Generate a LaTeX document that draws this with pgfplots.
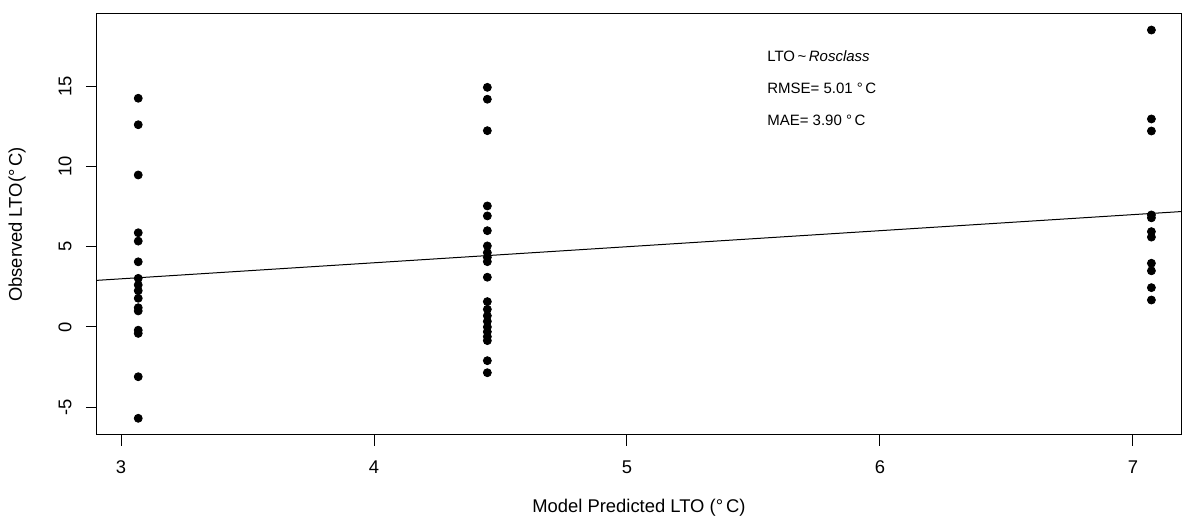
\documentclass[border=0pt]{standalone}
\usepackage{fontspec}
\setmainfont{Liberation Sans}
\usepackage{pgfplots}
\pgfplotsset{compat=1.18}
\begin{document}
\begin{tikzpicture}
\begin{axis}[
    scale only axis,
    width=542pt,
    height=210.5pt,
    xmin=2.905, xmax=7.19,
    ymin=-6.73, ymax=19.5,
    axis line style={line width=0.5pt},
    tick align=outside,
    major tick length=5.5pt,
    tick style={black, line width=0.5pt},
    xtick={3,4,5,6,7}, xticklabels={3,4,5,6,7},
    ytick={-5,0,5,10,15}, yticklabels={-5,0,5,10,15},
    xtick pos=bottom, ytick pos=left,
    tick label style={font=\fontsize{9.2}{11}\selectfont, inner sep=0pt},
    xticklabel shift=7pt,
    yticklabel style={rotate=90, anchor=south},
    yticklabel shift=7pt,
    xlabel={Model Predicted LTO (°\,C)},
    ylabel={Observed LTO(°\,C)},
    label style={font=\fontsize{9.2}{11}\selectfont},
    xlabel style={at={(axis description cs:0.5,-0.1734)}, anchor=center},
    ylabel style={at={(axis description cs:-0.0738,0.5)}, anchor=center},
    clip=true,
]

% observed vs predicted
\addplot[only marks, mark=*, mark size=2pt, black] coordinates {
(3.068,14.25) (3.068,12.6) (3.068,9.47) (3.068,5.87) (3.068,5.35)
(3.068,4.06) (3.068,3.03) (3.068,2.62) (3.068,2.26) (3.068,1.79)
(3.068,1.2) (3.068,1.0) (3.068,-0.2) (3.068,-0.4) (3.068,-3.1) (3.068,-5.69)
};
\addplot[only marks, mark=*, mark size=2pt, black] coordinates {
(4.448,14.93) (4.448,14.19) (4.448,12.23) (4.448,7.54) (4.448,6.92)
(4.448,6.0) (4.448,5.05) (4.448,4.63) (4.448,4.34) (4.448,4.07)
(4.448,3.1) (4.448,1.58) (4.448,1.1) (4.448,0.7) (4.448,0.35)
(4.448,0.0) (4.448,-0.3) (4.448,-0.6) (4.448,-0.85) (4.448,-2.1) (4.448,-2.85)
};
\addplot[only marks, mark=*, mark size=2pt, black] coordinates {
(7.073,18.5) (7.073,12.96) (7.073,12.21) (7.073,6.98) (7.073,6.8)
(7.073,5.94) (7.073,5.6) (7.073,3.97) (7.073,3.5) (7.073,2.45) (7.073,1.68)
};

% 1:1 line
\addplot[black, line width=0.5pt] coordinates {(2.8,2.8) (7.3,7.3)};

\node[anchor=west, font=\fontsize{7.5}{9}\selectfont, inner sep=0pt] at (axis cs:5.553,16.88) {LTO\,\textasciitilde\,\textit{Rosclass}};
\node[anchor=west, font=\fontsize{7.5}{9}\selectfont, inner sep=0pt] at (axis cs:5.553,14.89) {RMSE= 5.01 °\,C};
\node[anchor=west, font=\fontsize{7.5}{9}\selectfont, inner sep=0pt] at (axis cs:5.553,12.9) {MAE= 3.90 °\,C};
\end{axis}
\path (current axis.south west) ++(-48.5pt,-42pt);
\path (current axis.north east) ++(1pt,7pt);
\end{tikzpicture}
\end{document}
